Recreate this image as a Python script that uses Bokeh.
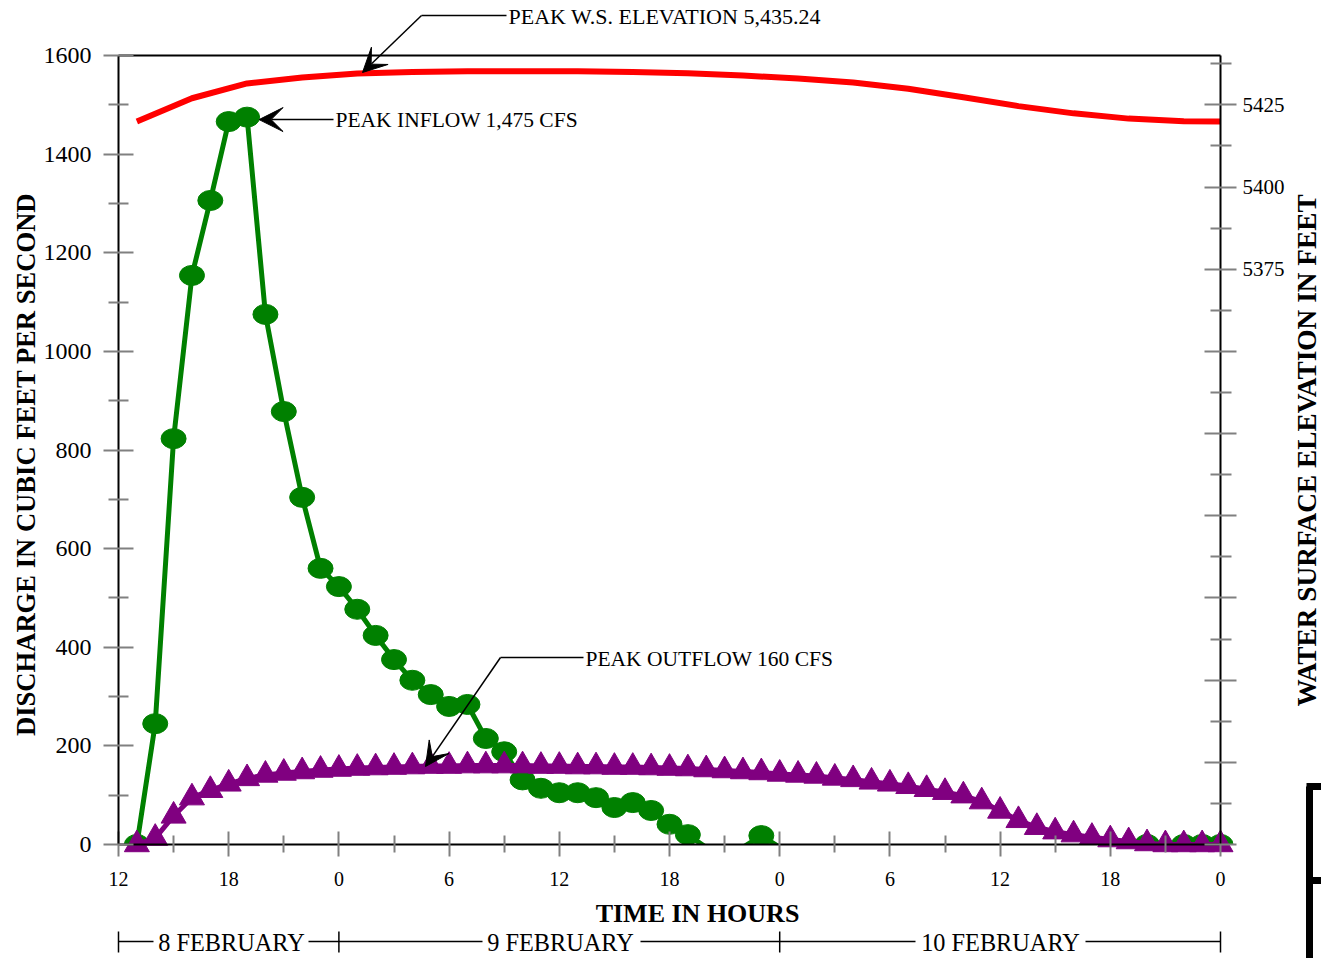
import numpy as np
from bokeh.plotting import figure
from bokeh.models import Range1d, LinearAxis, FixedTicker, Label, Arrow, VeeHead
from bokeh.embed import file_html
from bokeh.resources import INLINE

# ---------------- data ----------------
hours = list(range(1, 61))  # hours after 12:00 on 8 February
inflow = [0, 245, 823, 1154, 1306, 1466, 1475, 1075, 878, 704,
          560, 523, 477, 424, 375, 333, 304, 280, 284, 215,
          188, 131, 114, 105, 105, 95, 75, 85, 69, 41,
          20, -6, -6, -6, 18, -6, -6, -6, -6, -6,
          -6, -6, -6, -6, -6, -6, -6, -6, -6, -6,
          -6, -6, -6, -6, -6, 0, -6, 0, 0, 0]
outflow = [0, 13, 58, 95, 110, 123, 134, 141, 145, 148,
           151, 153, 155, 156, 157, 158, 159, 159, 160, 160,
           160, 160, 159, 159, 158, 158, 157, 157, 156, 155,
           154, 152, 150, 148, 146, 143, 141, 139, 135, 132,
           127, 123, 118, 112, 106, 99, 87, 68, 49, 35,
           26, 20, 15, 10, 6, 2, 0, 0, 0, 0]
ws_hours = [1, 4, 7, 10, 13, 16, 19, 22, 25, 28, 31, 34, 37, 40, 43, 46, 49, 52, 55, 58, 60]
ws_elev = [5419.9, 5427.0, 5431.5, 5433.3, 5434.5, 5435.0, 5435.2, 5435.24, 5435.2, 5435.0,
           5434.6, 5433.9, 5433.0, 5431.8, 5429.9, 5427.3, 5424.6, 5422.4, 5420.8, 5420.0, 5419.9]

x_ticks = list(range(0, 61, 6))
x_tick_labels = ["12", "18", "0", "6", "12", "18", "0", "6", "12", "18", "0"]
x_minor = list(range(3, 60, 6))
q_ticks = list(range(0, 1601, 200))
q_minor = list(range(100, 1600, 200))
elev_ticks = [5200 + 25 * i for i in range(10)]
elev_minor = [5212.5 + 25 * i for i in range(10)]
elev_labeled = [5375, 5400, 5425]
elev_bounds = (5200, 5440)
day_names = ["8 FEBRUARY", "9 FEBRUARY", "10 FEBRUARY"]
day_bounds = [0, 12, 36, 60]

FONT = "Liberation Serif"
GREEN = "#008000"
PURPLE = "#800080"
RED = "#ff0000"
TICK = "#808080"

W, H = 1321, 958
# pixel box of the data area; the frame fills the whole canvas so that
# the surrounding annotations can be drawn too
L, R, T, B = 118, 1220, 55, 844
X0, X1 = x_ticks[0], x_ticks[-1]
Y0, Y1 = q_ticks[0], q_ticks[-1]


def dx(px):
    return X0 + (px - L) / (R - L) * (X1 - X0)


def dy(py):
    return Y0 + (B - py) / (B - T) * (Y1 - Y0)


q_per_ft = (Y1 - Y0) / (elev_bounds[1] - elev_bounds[0])


def q_to_elev(q):
    return elev_bounds[0] + (q - Y0) / q_per_ft


p = figure(width=W, height=H, x_range=Range1d(dx(0), dx(W)), y_range=Range1d(dy(H), dy(0)),
           output_backend="svg", toolbar_location=None, min_border=0)
p.extra_y_ranges = {"elev": Range1d(q_to_elev(dy(H)), q_to_elev(dy(0)))}
p.grid.visible = False
p.outline_line_color = None
p.background_fill_color = "white"
p.border_fill_color = "white"

# x axis (sits at discharge 0)
xa = p.xaxis[0]
xa.fixed_location = Y0
xa.bounds = (X0, X1)
xa.ticker = FixedTicker(ticks=x_ticks, minor_ticks=x_minor)
xa.major_label_overrides = {t: s for t, s in zip(x_ticks, x_tick_labels)}
xa.axis_line_color = "black"
xa.axis_line_width = 2
xa.major_tick_line_color = TICK
xa.major_tick_line_width = 2
xa.major_tick_in = 13
xa.major_tick_out = 12
xa.minor_tick_line_color = TICK
xa.minor_tick_line_width = 2
xa.minor_tick_in = 9
xa.minor_tick_out = 8
xa.major_label_text_font = FONT
xa.major_label_text_font_size = "20px"
xa.major_label_text_color = "black"
xa.major_label_standoff = 15

# left axis
ya = p.yaxis[0]
ya.fixed_location = X0
ya.bounds = (Y0, Y1)
ya.ticker = FixedTicker(ticks=q_ticks, minor_ticks=q_minor)
ya.axis_line_color = "black"
ya.axis_line_width = 2
ya.major_tick_line_color = TICK
ya.major_tick_line_width = 2
ya.major_tick_in = 15
ya.major_tick_out = 15
ya.minor_tick_line_color = TICK
ya.minor_tick_line_width = 2
ya.minor_tick_in = 10
ya.minor_tick_out = 10
ya.major_label_text_font = FONT
ya.major_label_text_font_size = "24px"
ya.major_label_text_color = "black"
ya.major_label_standoff = 12

# right axis
ra = LinearAxis(y_range_name="elev", ticker=FixedTicker(ticks=elev_ticks, minor_ticks=elev_minor))
ra.fixed_location = X1
ra.bounds = elev_bounds
ra.major_label_overrides = {t: (str(t) if t in elev_labeled else "") for t in elev_ticks}
ra.axis_line_color = "black"
ra.axis_line_width = 2
ra.major_tick_line_color = TICK
ra.major_tick_line_width = 2
ra.major_tick_in = 16
ra.major_tick_out = 16
ra.minor_tick_line_color = TICK
ra.minor_tick_line_width = 2
ra.minor_tick_in = 10
ra.minor_tick_out = 11
ra.major_label_text_font = FONT
ra.major_label_text_font_size = "21px"
ra.major_label_text_color = "black"
ra.major_label_standoff = 6
p.add_layout(ra, "right")

# top border of the data area
p.segment(x0=[X0], y0=[Y1], x1=[X1], y1=[Y1], line_color="black", line_width=2)

# ---------------- series ----------------
p.line(hours, inflow, line_color=GREEN, line_width=5, line_join="round")
mh = [h for h, v in zip(hours, inflow) if v >= 0]
mv = [v for v in inflow if v >= 0]
p.ellipse(x=mh, y=mv, width=25, height=20, width_units="screen", height_units="screen",
          fill_color=GREEN, line_color=GREEN)
# inflow is cut off at the zero line: white mask below it
p.quad(left=[dx(0)], right=[dx(W)], bottom=[dy(H)], top=[Y0], fill_color="white", line_color=None)
p.line(hours, outflow, line_color=PURPLE, line_width=5, line_join="round")
p.scatter(hours, outflow, marker="triangle", size=25, fill_color=PURPLE, line_color=PURPLE)
p.line(ws_hours, ws_elev, y_range_name="elev", line_color=RED, line_width=6, line_join="round")


# ---------------- annotations ----------------
def seg(x0, y0, x1, y1, head=False, width=1.5):
    end = VeeHead(size=24, fill_color="black", line_color="black", line_width=1) if head else None
    p.add_layout(Arrow(x_start=x0, y_start=y0, x_end=x1, y_end=y1, line_color="black",
                       line_width=width, end=end))


def text(x, y, s, size="21px", align="left", bold=False, angle=0.0):
    p.add_layout(Label(x=x, y=y, text=s, text_font=FONT, text_font_size=size, text_align=align,
                       text_baseline="middle", text_color="black", angle=angle, angle_units="rad",
                       text_font_style="bold" if bold else "normal"))


peak_in = max(inflow)
peak_h = hours[inflow.index(peak_in)]

# peak water surface
seg(dx(506), dy(15), dx(421), dy(15))
seg(dx(421), dy(15), dx(362), dy(72), head=True)
text(dx(508), dy(16), "PEAK W.S. ELEVATION 5,435.24", size="22px")

# peak inflow
seg(dx(333), dy(119), peak_h + dx(130), peak_in - 5, head=True)
text(dx(335), dy(119), "PEAK INFLOW 1,475 CFS", size="21.5px")

# peak outflow
seg(dx(583), dy(657), dx(500), dy(657))
seg(dx(500), dy(657), dx(425), dy(766), head=True)
text(dx(585), dy(658), "PEAK OUTFLOW 160 CFS", size="21.5px")

# axis titles
text(dx(697), dy(913), "TIME IN HOURS", size="26px", align="center", bold=True)
text(dx(25), dy(464), "DISCHARGE IN CUBIC FEET PER SECOND", size="26.6px", align="center", bold=True,
     angle=np.pi / 2)
text(dx(1306), dy(450), "WATER SURFACE ELEVATION IN FEET", size="27.3px", align="center", bold=True,
     angle=np.pi / 2)

# date bar
ybar = dy(941)
for b in day_bounds:
    seg(b, dy(931), b, dy(952))
gaps = [(dx(153), dx(308)), (dx(482), dx(640)), (dx(915), dx(1085))]
edges = [day_bounds[0]] + [g for pair in gaps for g in pair] + [day_bounds[-1]]
for i in range(0, len(edges), 2):
    seg(edges[i], ybar, edges[i + 1], ybar)
for name, cpx in zip(day_names, [231, 560, 1000]):
    text(dx(cpx), dy(942), name, size="24.3px", align="center")

# bracket at the right edge of the page
seg(dx(1309), dy(960), dx(1309), dy(786), width=7)
seg(dx(1306), dy(786), dx(1322), dy(786), width=7)
seg(dx(1309), dy(880), dx(1322), dy(880), width=7)

open("out.html", "w").write(file_html(p, INLINE))
